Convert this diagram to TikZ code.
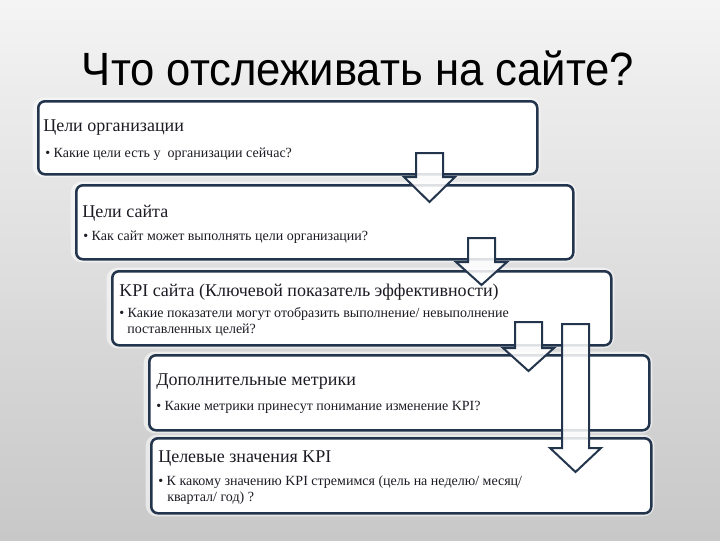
\documentclass[tikz,border=0pt]{standalone}
\usepackage{fontspec}
\setmainfont{Liberation Serif}
\newfontfamily\titlefont{Liberation Sans}
\definecolor{navy}{HTML}{23344D}
\definecolor{txt}{HTML}{1C1C24}
\definecolor{bgl}{HTML}{F2F2F2}
\definecolor{bgr}{HTML}{C8C8C8}
\tikzset{
  box/.style={draw=navy, line width=1.9pt, fill=white, rounded corners=5pt},
  glow/.style={draw=white, line width=5pt, opacity=0.55, rounded corners=6pt},
  head/.style={anchor=base west, inner sep=0pt, text=txt, font=\fontsize{13.5}{16}\selectfont},
  bul/.style={anchor=base west, inner sep=0pt, text=txt, font=\fontsize{10.5}{12}\selectfont, align=left},
  barrow/.style={draw=navy, line width=1.5pt, fill=white, fill opacity=0.85, line join=miter},
}
\begin{document}
\begin{tikzpicture}[x=0.75pt, y=-0.75pt]
\useasboundingbox (0,0) rectangle (720,540);
\shade[left color=bgl, right color=bgr, shading angle=0] (0,0) rectangle (720,540);
\shade[top color=white, bottom color=bgr, opacity=0.18] (0,0) rectangle (720,540);

\node[anchor=base, inner sep=0pt, font=\titlefont\fontsize{35}{40}\selectfont, text=black] (title) at (358,85) {\scalebox{0.935}[1]{Что отслеживать на сайте?}};

% boxes
\foreach \a/\b/\c/\d in {37/100/536/173, 75/184/572/258, 111/270/610/344, 148/354/648/429, 150/437/650/512}
  \draw[glow] (\a-1,\b+1) rectangle (\c+1,\d+1);
\node[box, anchor=north west, minimum width=499*0.75pt, minimum height=73*0.75pt] (b1) at (37,100) {};
\node[box, anchor=north west, minimum width=497*0.75pt, minimum height=74*0.75pt] (b2) at (75,184) {};
\node[box, anchor=north west, minimum width=499*0.75pt, minimum height=74*0.75pt] (b3) at (111,270) {};
\node[box, anchor=north west, minimum width=500*0.75pt, minimum height=75*0.75pt] (b4) at (148,354) {};
\node[box, anchor=north west, minimum width=500*0.75pt, minimum height=75*0.75pt] (b5) at (150,437) {};

% texts
\node[head] (t1) at (43,131) {Цели организации};
\node[bul] (s1) at (45,157) {• Какие цели есть у\ \ организации сейчас?};
\node[head] (t2) at (82,217) {Цели сайта};
\node[bul] (s2) at (83,240) {• Как сайт может выполнять цели организации?};
\node[head] (t3) at (119,296) {KPI сайта (Ключевой показатель эффективности)};
\node[bul] (s3) at (119,317) {• Какие показатели могут отобразить выполнение/ невыполнение};
\node[bul] (s3b) at (127,333) {поставленных целей?};
\node[head] (t4) at (156,385) {Дополнительные метрики};
\node[bul] (s4) at (156,410) {• Какие метрики принесут понимание изменение KPI?};
\node[head] (t5) at (158,462) {Целевые значения KPI};
\node[bul] (s5) at (158,485) {• К какому значению KPI стремимся (цель на неделю/ месяц/};
\node[bul] (s5b) at (167,501) {квартал/ год) ?};

% block arrows
\draw[barrow] (416,153) -- (443,153) -- (443,177) -- (455,177) -- (429.5,202) -- (404,177) -- (416,177) -- cycle;
\draw[barrow] (468,238) -- (495,238) -- (495,262) -- (507,262) -- (481.5,285) -- (456,262) -- (468,262) -- cycle;
\draw[barrow] (515,322) -- (542,322) -- (542,348) -- (554,348) -- (528.5,371) -- (503,348) -- (515,348) -- cycle;
\draw[barrow] (562,324) -- (589,324) -- (589,448) -- (601,448) -- (575.5,472) -- (550,448) -- (562,448) -- cycle;
\end{tikzpicture}
\end{document}
